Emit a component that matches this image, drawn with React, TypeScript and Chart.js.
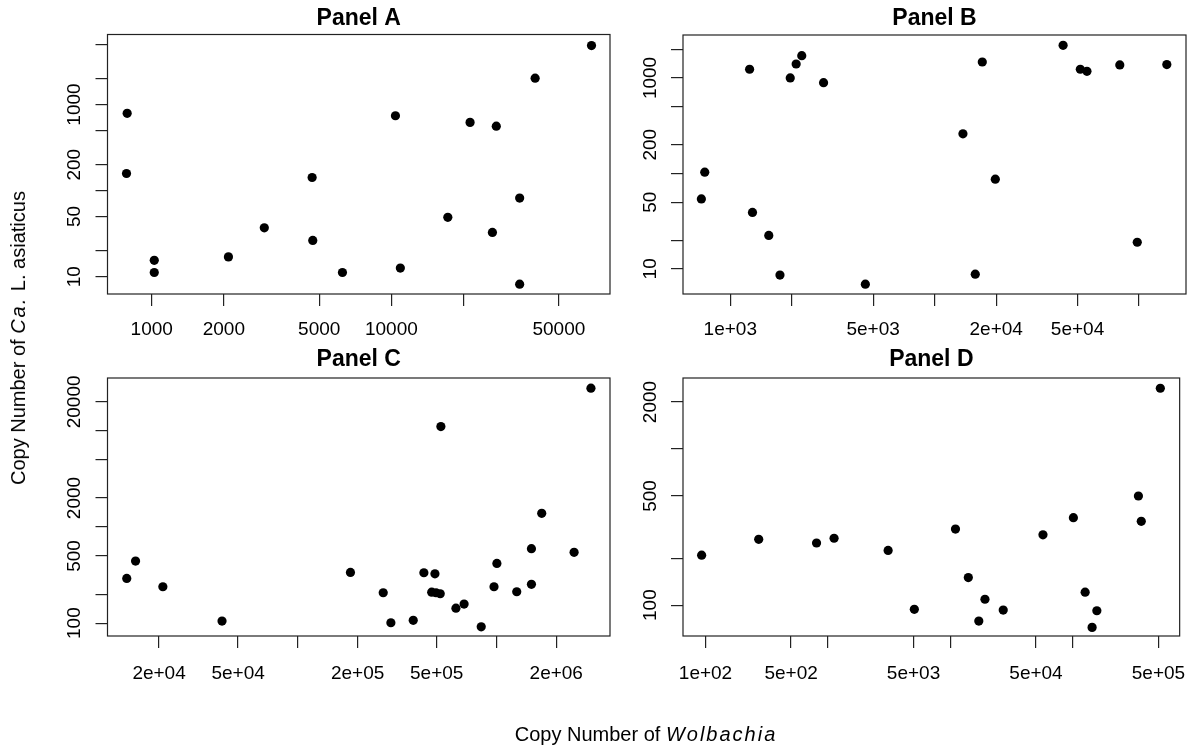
import React, { useEffect, useRef } from 'react';
import { Chart, registerables } from 'chart.js';

Chart.register(...registerables);

const FONT_FAMILY = '"Liberation Sans", Arial, Helvetica, sans-serif';

// ---------- Panel A ----------
const panelATitle = 'Panel A';
const panelAWolbachia = [790, 785, 1025, 1025, 2090, 2950, 4670, 4700, 6250, 10400, 10900, 17200, 21300, 26400, 27400, 34300, 34300, 39800, 68400];
const panelAAsiaticus = [790, 158, 15.5, 11.2, 17, 37, 142, 26.4, 11.2, 740, 12.6, 49, 620, 32.7, 560, 82, 8.2, 2020, 4830];
const panelAXTicks = [1000, 2000, 5000, 10000, 20000, 50000];
const panelAXTickLabels = ['1000', '2000', '5000', '10000', '', '50000'];
const panelAYTicks = [10, 20, 50, 100, 200, 500, 1000, 2000, 5000];
const panelAYTickLabels = ['10', '', '50', '', '200', '', '1000', '', ''];
const panelAXRange = [654, 81700];
const panelAYRange = [6.3, 6500];

// ---------- Panel B ----------
const panelBTitle = 'Panel B';
const panelBWolbachia = [722, 750, 1243, 1284, 1543, 1750, 1965, 2100, 2237, 2860, 4580, 13750, 15800, 17100, 19800, 42500, 51600, 55600, 80500, 98000, 136700];
const panelBAsiaticus = [54, 103, 1234, 39, 22.4, 8.6, 1000, 1400, 1714, 893, 6.9, 260, 8.8, 1470, 87, 2200, 1234, 1175, 1370, 19, 1380];
const panelBXTicks = [1000, 2000, 5000, 10000, 20000, 50000, 100000];
const panelBXTickLabels = ['1e+03', '', '5e+03', '', '2e+04', '5e+04', ''];
const panelBYTicks = [10, 20, 50, 100, 200, 500, 1000, 2000];
const panelBYTickLabels = ['10', '', '50', '', '200', '', '1000', ''];
const panelBXRange = [587, 169700];
const panelBYRange = [5.45, 2820];

// ---------- Panel C ----------
const panelCTitle = 'Panel C';
const panelCWolbachia = [13750, 15230, 20900, 41500, 184000, 269000, 294000, 381000, 431000, 490000, 472000, 496000, 521000, 525000, 625000, 687000, 838000, 972000, 1005000, 1265000, 1500000, 1500000, 1690000, 2460000, 2990000];
const panelCAsiaticus = [292, 442, 239, 105, 337, 207, 101, 107, 334, 326, 210, 207, 202, 11060, 143, 158, 91.5, 239, 418, 212, 253, 594, 1387, 545, 27770];
const panelCXTicks = [20000, 50000, 100000, 200000, 500000, 1000000, 2000000];
const panelCXTickLabels = ['2e+04', '5e+04', '', '2e+05', '5e+05', '', '2e+06'];
const panelCYTicks = [100, 200, 500, 1000, 2000, 5000, 10000, 20000];
const panelCYTickLabels = ['100', '', '500', '', '2000', '', '', '20000'];
const panelCXRange = [11000, 3730000];
const panelCYRange = [73.5, 35400];

// ---------- Panel D ----------
const panelDTitle = 'Panel D';
const panelDWolbachia = [93, 272, 807, 1122, 3100, 5075, 11000, 14000, 17060, 19150, 27000, 57000, 101000, 126000, 143600, 157000, 343000, 362000, 518000];
const panelDAsiaticus = [209, 264, 250, 268, 224, 94, 307, 150, 79, 109, 93, 282, 363, 121, 72, 92, 500, 344, 2450];
const panelDXTicks = [100, 500, 1000, 5000, 10000, 50000, 100000, 500000];
const panelDXTickLabels = ['1e+02', '5e+02', '', '5e+03', '', '5e+04', '', '5e+05'];
const panelDYTicks = [100, 200, 500, 1000, 2000];
const panelDYTickLabels = ['100', '', '500', '', '2000'];
const panelDXRange = [65.5, 745000];
const panelDYRange = [63.4, 2850];

type Panel = {
  title: string;
  xs: number[];
  ys: number[];
  xTicks: number[];
  xTickLabels: string[];
  yTicks: number[];
  yTickLabels: string[];
  xRange: number[];
  yRange: number[];
};

type Box = { left: number; top: number; right: number; bottom: number; titleY: number; xLabelPad: number };

const PANELS: Panel[] = [
  { title: panelATitle, xs: panelAWolbachia, ys: panelAAsiaticus, xTicks: panelAXTicks, xTickLabels: panelAXTickLabels, yTicks: panelAYTicks, yTickLabels: panelAYTickLabels, xRange: panelAXRange, yRange: panelAYRange },
  { title: panelBTitle, xs: panelBWolbachia, ys: panelBAsiaticus, xTicks: panelBXTicks, xTickLabels: panelBXTickLabels, yTicks: panelBYTicks, yTickLabels: panelBYTickLabels, xRange: panelBXRange, yRange: panelBYRange },
  { title: panelCTitle, xs: panelCWolbachia, ys: panelCAsiaticus, xTicks: panelCXTicks, xTickLabels: panelCXTickLabels, yTicks: panelCYTicks, yTickLabels: panelCYTickLabels, xRange: panelCXRange, yRange: panelCYRange },
  { title: panelDTitle, xs: panelDWolbachia, ys: panelDAsiaticus, xTicks: panelDXTicks, xTickLabels: panelDXTickLabels, yTicks: panelDYTicks, yTickLabels: panelDYTickLabels, xRange: panelDXRange, yRange: panelDYRange },
];

// Layout (page pixel positions of each plot box)
const BOXES: Box[] = [
  { left: 107.5, top: 34.5, right: 610, bottom: 294, titleY: 18.5, xLabelPad: 12.5 },
  { left: 683, top: 35, right: 1186, bottom: 294, titleY: 18.5, xLabelPad: 12.5 },
  { left: 107.5, top: 378, right: 610, bottom: 636, titleY: 360, xLabelPad: 14 },
  { left: 683, top: 378, right: 1186, bottom: 636, titleY: 360, xLabelPad: 14 },
];

const PAGE_W = 1200;
const PAGE_H = 745;
const Y_AXIS_W = 60;
const X_AXIS_H = 50;
const TITLE_FONT = 23;
const TITLE_LH = 1.2;
const TITLE_PAD_TOP = 1;
const TICK_LEN = 12;
const TICK_FONT = 19;
const Y_LABEL_OFFSET = 27.5;

function PanelChart({ panel, box }: { panel: Panel; box: Box }) {
  const ref = useRef<HTMLCanvasElement | null>(null);
  useEffect(() => {
    const canvas = ref.current;
    if (!canvas) return;
    const titleLine = TITLE_FONT * TITLE_LH;
    const titlePadBottom = box.top - box.titleY - titleLine / 2;
    const titleH = TITLE_PAD_TOP + titleLine + titlePadBottom;

    const rPlugin = {
      id: 'rStyleBox',
      afterDraw(chart: any) {
        const { ctx, chartArea: a } = chart;
        ctx.save();
        ctx.strokeStyle = '#222';
        ctx.lineWidth = 1.2;
        ctx.strokeRect(a.left, a.top, a.right - a.left, a.bottom - a.top);
        const ys = chart.scales.y;
        ctx.fillStyle = '#000';
        ctx.font = `${TICK_FONT}px ${FONT_FAMILY}`;
        ctx.textAlign = 'center';
        ctx.textBaseline = 'alphabetic';
        panel.yTicks.forEach((v, i) => {
          const lab = panel.yTickLabels[i];
          if (!lab) return;
          const py = ys.getPixelForValue(v);
          ctx.save();
          ctx.translate(a.left - Y_LABEL_OFFSET, py);
          ctx.rotate(-Math.PI / 2);
          ctx.fillText(lab, 0, 0);
          ctx.restore();
        });
        ctx.restore();
      },
    };

    const gridOpts = { drawOnChartArea: false, drawTicks: true, tickLength: TICK_LEN, color: '#222', lineWidth: 1.2 };

    const chart = new Chart(canvas, {
      type: 'scatter',
      data: {
        datasets: [
          {
            data: panel.xs.map((x, i) => ({ x, y: panel.ys[i] })),
            backgroundColor: '#000',
            borderColor: '#000',
            borderWidth: 0,
            pointRadius: 4.6,
            pointHoverRadius: 4.6,
          },
        ],
      },
      options: {
        responsive: false,
        animation: false,
        events: [],
        layout: {
          padding: {
            left: box.left - Y_AXIS_W,
            right: PAGE_W - box.right,
            top: box.top - titleH,
            bottom: PAGE_H - box.bottom - X_AXIS_H,
          },
        },
        plugins: {
          legend: { display: false },
          tooltip: { enabled: false },
          title: {
            display: true,
            text: panel.title,
            fullSize: false,
            color: '#000',
            font: { family: FONT_FAMILY, size: TITLE_FONT, weight: 'bold', lineHeight: TITLE_LH },
            padding: { top: TITLE_PAD_TOP, bottom: titlePadBottom },
          },
        },
        scales: {
          x: {
            type: 'logarithmic',
            position: 'bottom',
            bounds: 'data',
            min: panel.xRange[0],
            max: panel.xRange[1],
            afterBuildTicks: (s: any) => {
              s.ticks = panel.xTicks.map((v) => ({ value: v }));
            },
            afterFit: (s: any) => {
              s.height = X_AXIS_H;
            },
            ticks: {
              autoSkip: false,
              maxRotation: 0,
              minRotation: 0,
              padding: box.xLabelPad,
              color: '#000',
              font: { family: FONT_FAMILY, size: TICK_FONT },
              callback: (v: any) => {
                const i = panel.xTicks.indexOf(Number(v));
                return i >= 0 ? panel.xTickLabels[i] : '';
              },
            },
            grid: gridOpts,
            border: { display: false },
          },
          y: {
            type: 'logarithmic',
            position: 'left',
            bounds: 'data',
            min: panel.yRange[0],
            max: panel.yRange[1],
            afterBuildTicks: (s: any) => {
              s.ticks = panel.yTicks.map((v) => ({ value: v }));
            },
            afterFit: (s: any) => {
              s.width = Y_AXIS_W;
            },
            ticks: { display: false, autoSkip: false },
            grid: gridOpts,
            border: { display: false },
          },
        },
      } as any,
      plugins: [rPlugin],
    });
    return () => chart.destroy();
  }, [panel, box]);

  return (
    <canvas
      ref={ref}
      width={PAGE_W}
      height={PAGE_H}
      style={{ position: 'absolute', left: 0, top: 0, width: PAGE_W, height: PAGE_H }}
    />
  );
}

export default function App() {
  const textStyle: React.CSSProperties = {
    position: 'absolute',
    whiteSpace: 'nowrap',
    fontFamily: FONT_FAMILY,
    fontSize: 20,
    lineHeight: '20px',
    color: '#000',
  };
  return (
    <div style={{ position: 'absolute', left: 0, top: 0, width: PAGE_W, height: PAGE_H, background: '#fff', overflow: 'hidden' }}>
      {PANELS.map((p, i) => (
        <PanelChart key={p.title} panel={p} box={BOXES[i]} />
      ))}
      <div style={{ ...textStyle, left: 646, top: 734, transform: 'translate(-50%, -50%)' }}>
        Copy Number of <i style={{ letterSpacing: '2px' }}>Wolbachia</i>
      </div>
      <div style={{ ...textStyle, left: 17.8, top: 338, transform: 'translate(-50%, -50%) rotate(-90deg)' }}>
        Copy Number of <i style={{ letterSpacing: '2px' }}>Ca.</i> L. asiaticus
      </div>
    </div>
  );
}
